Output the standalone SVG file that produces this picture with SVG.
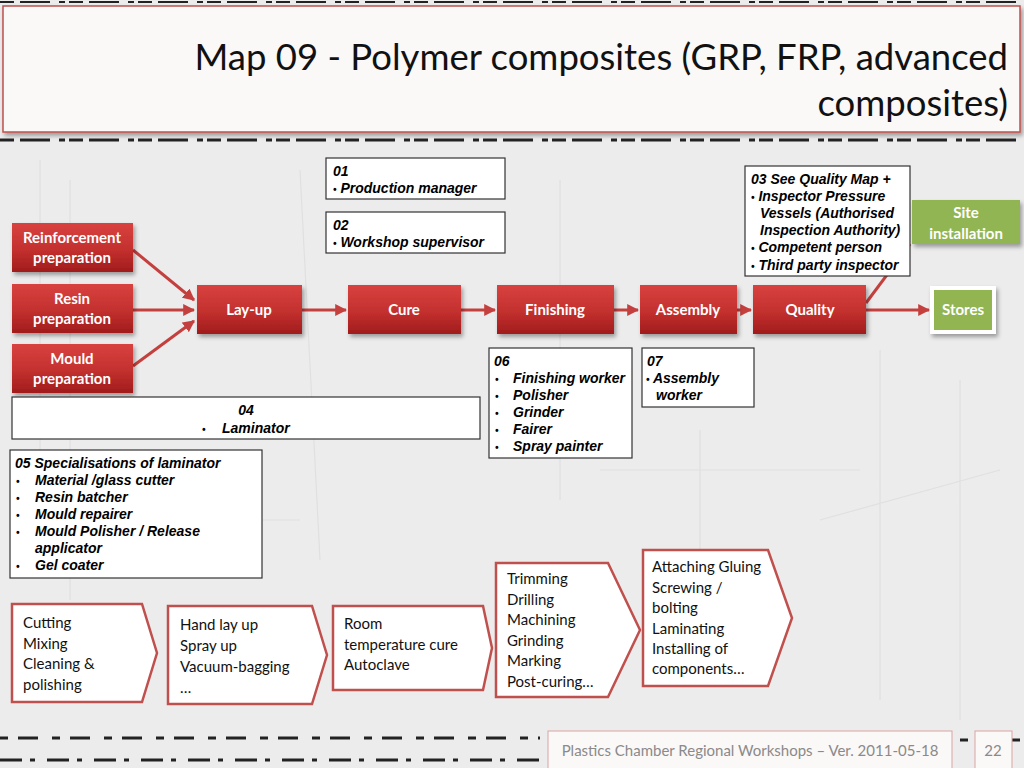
<svg xmlns="http://www.w3.org/2000/svg" width="1024" height="768" viewBox="0 0 1024 768">
<defs>
<linearGradient id="red" x1="0" y1="0" x2="0" y2="1">
<stop offset="0" stop-color="#d8423f"/>
<stop offset="0.55" stop-color="#c3302e"/>
<stop offset="1" stop-color="#a01c1c"/>
</linearGradient>
<filter id="sh" x="-10%" y="-10%" width="125%" height="135%">
<feDropShadow dx="2" dy="3" stdDeviation="2" flood-color="#000" flood-opacity="0.35"/>
</filter>
<marker id="ah" viewBox="0 0 10 10" refX="9" refY="5" markerWidth="4" markerHeight="4" orient="auto" markerUnits="strokeWidth">
<path d="M0,0 L10,5 L0,10 Z" fill="#c4403f"/>
</marker>
<style>
.red{fill:url(#red);filter:url(#sh)}
.grn{fill:#92b552}
.nt{font-family:Lato,"Open Sans","Liberation Sans",sans-serif;font-weight:bold;font-size:15px;fill:#fff;text-anchor:middle}
.box{fill:#fff;stroke:#333;stroke-width:1.2}
.bt{font-family:"Liberation Sans",Arial,sans-serif;font-weight:bold;font-style:italic;font-size:14px;fill:#000}
.bl{font-size:10px}
.chev{fill:#fff;stroke:#c0504d;stroke-width:2.5;stroke-linejoin:miter}
.ct{font-family:Lato,"Open Sans","Liberation Sans",sans-serif;font-size:15px;fill:#111}
.con{stroke:#c4403f;stroke-width:3;fill:none}
</style>
</defs>

<!-- background -->
<rect width="1024" height="768" fill="#ececec"/>
<g stroke="#e0e0e0" stroke-width="1.2" fill="none">
<path d="M40,160 V560 M70,180 V600 M300,170 L320,560 M560,180 V500 M700,430 V560 M880,350 V700 M960,380 V720 M120,520 H300 M600,470 H860 M820,520 L1000,470"/>
</g>
<g stroke="#222" stroke-width="3" fill="none" stroke-dasharray="14 6 30 9 6 4">
<path d="M0,140 H1024"/>
<path d="M0,2 H1024" stroke-width="2"/>
<path d="M0,738 H540 M960,740 H1024" stroke-dasharray="8 10 20 14"/>
<path d="M0,760 H540" stroke-dasharray="22 8 5 12"/>
</g>

<!-- title -->
<g id="title">
<rect x="3" y="6" width="1017" height="126" fill="#fbf8f8" stroke="#c0504d" stroke-width="1.5" filter="url(#sh)"/>
<text x="1008" y="70" font-family="Lato,'Open Sans','Liberation Sans',sans-serif" font-size="36.5" fill="#111" text-anchor="end">Map 09 - Polymer composites (GRP, FRP, advanced</text>
<text x="1008" y="116" font-family="Lato,'Open Sans','Liberation Sans',sans-serif" font-size="36.5" fill="#111" text-anchor="end">composites)</text>
</g>

<!-- connectors -->
<g id="connectors">
<line class="con" x1="133" y1="250" x2="194" y2="300" marker-end="url(#ah)"/>
<line class="con" x1="133" y1="310" x2="194" y2="310" marker-end="url(#ah)"/>
<line class="con" x1="133" y1="366" x2="194" y2="321" marker-end="url(#ah)"/>
<line class="con" x1="302" y1="310" x2="346" y2="310" marker-end="url(#ah)"/>
<line class="con" x1="461" y1="310" x2="495" y2="310" marker-end="url(#ah)"/>
<line class="con" x1="614" y1="310" x2="638" y2="310" marker-end="url(#ah)"/>
<line class="con" x1="737" y1="310" x2="751" y2="310" marker-end="url(#ah)"/>
<line class="con" x1="866" y1="310" x2="929" y2="310" marker-end="url(#ah)"/>
<line class="con" x1="866" y1="303" x2="910" y2="244"/>
</g>

<!-- process nodes -->
<g id="reinforcement"><rect class="red" x="12" y="223" width="121" height="49"/><text class="nt" x="72" y="243">Reinforcement</text><text class="nt" x="72" y="263">preparation</text></g>
<g id="resin"><rect class="red" x="12" y="284" width="121" height="49"/><text class="nt" x="72" y="304">Resin</text><text class="nt" x="72" y="324">preparation</text></g>
<g id="mould"><rect class="red" x="12" y="344" width="121" height="49"/><text class="nt" x="72" y="364">Mould</text><text class="nt" x="72" y="384">preparation</text></g>
<g id="layup"><rect class="red" x="197" y="285" width="105" height="49"/><text class="nt" x="249" y="315">Lay-up</text></g>
<g id="cure"><rect class="red" x="348" y="285" width="113" height="49"/><text class="nt" x="404" y="315">Cure</text></g>
<g id="finishing"><rect class="red" x="497" y="285" width="117" height="49"/><text class="nt" x="555" y="315">Finishing</text></g>
<g id="assembly"><rect class="red" x="640" y="285" width="97" height="49"/><text class="nt" x="688" y="315">Assembly</text></g>
<g id="quality"><rect class="red" x="753" y="285" width="113" height="49"/><text class="nt" x="810" y="315">Quality</text></g>
<g id="stores"><rect x="930" y="286" width="66" height="48" fill="#fff" filter="url(#sh)"/><rect class="grn" x="934" y="290" width="58" height="40"/><text class="nt" x="963" y="315">Stores</text></g>
<g id="site"><rect class="grn" x="912" y="200" width="108" height="44" filter="url(#sh)"/><text class="nt" x="966" y="218">Site</text><text class="nt" x="966" y="239">installation</text></g>

<!-- role boxes -->
<g id="box01"><rect class="box" x="326" y="158" width="179" height="41"/><text class="bt" x="333" y="176">01</text><text class="bt" x="333" y="193"><tspan class="bl">•</tspan> Production manager</text></g>
<g id="box02"><rect class="box" x="326" y="212" width="179" height="41"/><text class="bt" x="333" y="230">02</text><text class="bt" x="333" y="247"><tspan class="bl">•</tspan> Workshop supervisor</text></g>
<g id="box03"><rect class="box" x="745" y="166" width="165" height="110"/>
<text class="bt" x="751" y="184">03 See Quality Map +</text>
<text class="bt" x="751" y="201"><tspan class="bl">•</tspan> Inspector Pressure</text>
<text class="bt" x="760" y="218">Vessels (Authorised</text>
<text class="bt" x="760" y="235">Inspection Authority)</text>
<text class="bt" x="751" y="252"><tspan class="bl">•</tspan> Competent person</text>
<text class="bt" x="751" y="270"><tspan class="bl">•</tspan> Third party inspector</text></g>
<g id="box04"><rect class="box" x="12" y="397" width="468" height="42"/><text class="bt" x="246" y="415" text-anchor="middle">04</text><text class="bt bl" x="202" y="433">•</text><text class="bt" x="222" y="433">Laminator</text></g>
<g id="box05"><rect class="box" x="10" y="450" width="252" height="128"/>
<text class="bt" x="15" y="468">05 Specialisations of laminator</text>
<g class="bt bl"><text x="16" y="485">•</text><text x="16" y="502">•</text><text x="16" y="519">•</text><text x="16" y="536">•</text><text x="16" y="570">•</text></g>
<text class="bt" x="35" y="485">Material /glass cutter</text>
<text class="bt" x="35" y="502">Resin batcher</text>
<text class="bt" x="35" y="519">Mould repairer</text>
<text class="bt" x="35" y="536">Mould Polisher / Release</text>
<text class="bt" x="35" y="553">applicator</text>
<text class="bt" x="35" y="570">Gel coater</text></g>
<g id="box06"><rect class="box" x="489" y="348" width="143" height="110"/>
<text class="bt" x="494" y="366">06</text>
<g class="bt bl"><text x="495" y="383">•</text><text x="495" y="400">•</text><text x="495" y="417">•</text><text x="495" y="434">•</text><text x="495" y="451">•</text></g>
<text class="bt" x="513" y="383">Finishing worker</text>
<text class="bt" x="513" y="400">Polisher</text>
<text class="bt" x="513" y="417">Grinder</text>
<text class="bt" x="513" y="434">Fairer</text>
<text class="bt" x="513" y="451">Spray painter</text></g>
<g id="box07"><rect class="box" x="642" y="348" width="112" height="59"/>
<text class="bt" x="647" y="366">07</text>
<text class="bt" x="646" y="383"><tspan class="bl">•</tspan> Assembly</text>
<text class="bt" x="656" y="400">worker</text></g>

<!-- activity chevrons -->
<g id="chev1"><path class="chev" d="M12,604 H142 L157,653 L142,702 H12 Z"/>
<text class="ct" x="23" y="628">Cutting</text><text class="ct" x="23" y="649">Mixing</text><text class="ct" x="23" y="669">Cleaning &amp;</text><text class="ct" x="23" y="690">polishing</text></g>
<g id="chev2"><path class="chev" d="M168,606 H312 L327,655 L312,704 H168 Z"/>
<text class="ct" x="180" y="630">Hand lay up</text><text class="ct" x="180" y="651">Spray up</text><text class="ct" x="180" y="672">Vacuum-bagging</text><text class="ct" x="180" y="693">…</text></g>
<g id="chev3"><path class="chev" d="M333,606 H483 L492,648 L483,690 H333 Z"/>
<text class="ct" x="344" y="629">Room</text><text class="ct" x="344" y="650">temperature cure</text><text class="ct" x="344" y="670">Autoclave</text></g>
<g id="chev4"><path class="chev" d="M496,563 H608 L640,630 L608,697 H496 Z"/>
<text class="ct" x="507" y="584">Trimming</text><text class="ct" x="507" y="605">Drilling</text><text class="ct" x="507" y="625">Machining</text><text class="ct" x="507" y="646">Grinding</text><text class="ct" x="507" y="666">Marking</text><text class="ct" x="507" y="687">Post-curing…</text></g>
<g id="chev5"><path class="chev" d="M643,550 H768 L792,618 L768,686 H643 Z"/>
<text class="ct" x="652" y="572">Attaching Gluing</text><text class="ct" x="652" y="593">Screwing /</text><text class="ct" x="652" y="613">bolting</text><text class="ct" x="652" y="634">Laminating</text><text class="ct" x="652" y="654">Installing of</text><text class="ct" x="652" y="674">components…</text></g>

<!-- footer -->
<g id="footer">
<rect x="548" y="731" width="404" height="40" fill="#fbf8f8" stroke="#d9a3a2" stroke-width="1"/>
<text x="750" y="756" font-family="Lato,'Open Sans','Liberation Sans',sans-serif" font-size="15" fill="#8a8a8a" text-anchor="middle">Plastics Chamber Regional Workshops – Ver. 2011-05-18</text>
<rect x="975" y="731" width="37" height="40" fill="#fbf8f8" stroke="#d9a3a2" stroke-width="1"/>
<text x="993" y="756" font-family="Lato,'Open Sans','Liberation Sans',sans-serif" font-size="15" fill="#8a8a8a" text-anchor="middle">22</text>
</g>
</svg>
